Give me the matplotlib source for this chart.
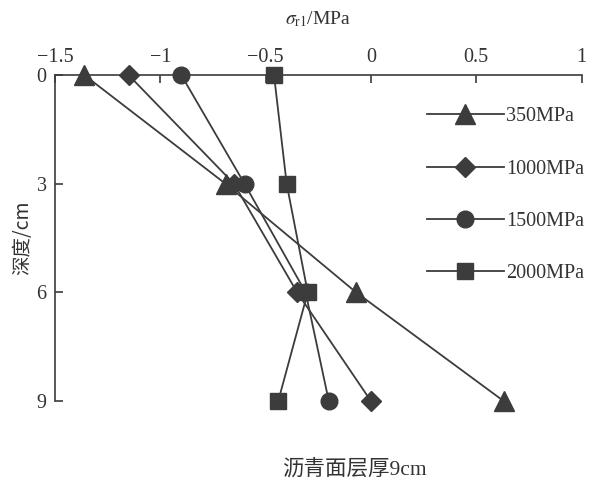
import matplotlib
matplotlib.use("Agg")
import matplotlib.pyplot as plt

# depth (cm) and stress sigma_r1 (MPa) for each modulus
depth = [0, 3, 6, 9]
s350 = [-1.36, -0.69, -0.07, 0.63]
s1000 = [-1.15, -0.65, -0.35, 0.00]
s1500 = [-0.90, -0.60, -0.31, -0.20]
s2000 = [-0.46, -0.40, -0.30, -0.44]
labels = ["350MPa", "1000MPa", "1500MPa", "2000MPa"]
xticks = [-1.5, -1, -0.5, 0, 0.5, 1]
xticklabels = ["\u22121.5", "\u22121", "\u22120.5", "0", "0.5", "1"]
yticks = [0, 3, 6, 9]

plt.rcParams["font.family"] = ["Liberation Serif", "Noto Sans CJK SC"]
plt.rcParams["mathtext.fontset"] = "stix"

C = "#3c3c3c"
T = "#333333"
fig = plt.figure(figsize=(5.93, 4.82), dpi=100)
ax = fig.add_axes([0.0927, 0.168, 0.888, 0.676])

series = [(s350, "^", 14), (s1000, "D", 10), (s1500, "o", 12), (s2000, "s", 11)]
for (vals, mk, ms), lab in zip(series, labels):
    ax.plot(vals, depth, color=C, lw=1.3, marker=mk, ms=ms, mfc=C, mec=C,
            label=lab, clip_on=False, zorder=3)

ax.set_xlim(-1.5, 1)
ax.set_ylim(9, 0)
ax.xaxis.tick_top()
ax.xaxis.set_label_position("top")
ax.set_xticks(xticks)
ax.set_xticklabels(xticklabels)
ax.set_yticks(yticks)
ax.tick_params(direction="in", length=6, width=1.2, color=C, labelsize=14.5,
               labelcolor=T, pad=6)
for s in ["right", "bottom"]:
    ax.spines[s].set_visible(False)
for s in ["top", "left"]:
    ax.spines[s].set_color(C)
    ax.spines[s].set_linewidth(1.2)

ax.set_xlabel(r"$\sigma_{\rm r1}$/MPa", fontsize=14, color=T, labelpad=17)
ax.set_ylabel("深度/cm", fontsize=14, color=T,
              family=["Noto Sans CJK SC"], labelpad=2)

fig.text(0.598, 0.016, "沥青面层厚9cm", fontsize=15.5, color=T, ha="center")

ax.legend(loc="upper left", bbox_to_anchor=(0.689, 0.815), bbox_transform=fig.transFigure,
          frameon=False, fontsize=14.5, handlelength=3.85, handletextpad=0.1,
          labelspacing=1.65, labelcolor=T)

plt.savefig("out.png", dpi=100)
